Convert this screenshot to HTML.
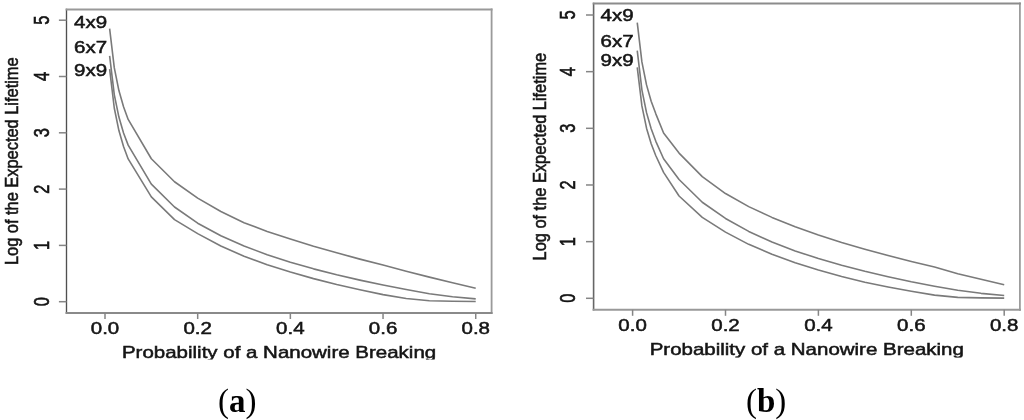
<!DOCTYPE html>
<html><head><meta charset="utf-8"><style>
html,body{margin:0;padding:0;background:#fff;}
body{width:1024px;height:420px;overflow:hidden;}
svg{display:block;filter:blur(0.35px);}
svg text{font-family:"Liberation Sans", sans-serif;}
.cap{font-family:"Liberation Serif", serif; font-size:33px; fill:#000;}
</style></head><body>
<svg width="1024" height="420" viewBox="0 0 1024 420">
<defs>
<clipPath id="clip0"><rect x="0" y="330" width="512" height="29.50"/></clipPath>
<clipPath id="clip1"><rect x="512" y="330" width="512" height="27.60"/></clipPath>
</defs>
<rect width="1024" height="420" fill="#fff"/>
<g fill="none" stroke-linecap="square">
<line x1="66.5" y1="9.5" x2="66.5" y2="313.0" stroke="#505050" stroke-width="1.35"/>
<line x1="491.6" y1="9.5" x2="491.6" y2="313.0" stroke="#9a9a9a" stroke-width="1.8"/>
<line x1="66.5" y1="9.5" x2="491.6" y2="9.5" stroke="#999" stroke-width="1.8"/>
<line x1="66.5" y1="313.0" x2="491.6" y2="313.0" stroke="#8a8a8a" stroke-width="1.9"/>
</g>
<g stroke="#858585" stroke-width="1.5" fill="none">
<line x1="58.90" y1="301.70" x2="66.5" y2="301.70"/>
<line x1="58.90" y1="245.40" x2="66.5" y2="245.40"/>
<line x1="58.90" y1="189.10" x2="66.5" y2="189.10"/>
<line x1="58.90" y1="132.80" x2="66.5" y2="132.80"/>
<line x1="58.90" y1="76.50" x2="66.5" y2="76.50"/>
<line x1="58.90" y1="20.20" x2="66.5" y2="20.20"/>
<line x1="105.00" y1="313.0" x2="105.00" y2="319.00"/>
<line x1="197.68" y1="313.0" x2="197.68" y2="319.00"/>
<line x1="290.36" y1="313.0" x2="290.36" y2="319.00"/>
<line x1="383.04" y1="313.0" x2="383.04" y2="319.00"/>
<line x1="475.72" y1="313.0" x2="475.72" y2="319.00"/>
</g>
<g stroke="#7a7a7a" stroke-width="1.6" fill="none" stroke-linejoin="round">
<path d="M109.63,28.64 L114.27,67.71 L118.90,90.59 L123.54,106.83 L128.17,119.45 L151.34,158.72 L174.51,181.75 L197.68,198.14 L220.85,211.55 L244.02,222.66 L267.19,231.45 L290.36,239.08 L313.53,246.27 L336.70,252.77 L359.87,259.12 L383.04,265.00 L406.21,271.23 L429.38,277.12 L452.55,282.83 L475.72,288.29"/>
<path d="M109.63,55.94 L114.27,94.61 L118.90,117.09 L123.54,132.93 L128.17,145.14 L151.34,184.17 L174.51,207.00 L197.68,223.19 L220.85,235.76 L244.02,246.02 L267.19,254.70 L290.36,262.22 L313.53,268.85 L336.70,274.78 L359.87,280.15 L383.04,285.05 L406.21,289.55 L429.38,293.72 L452.55,296.76 L475.72,298.88"/>
<path d="M109.63,69.17 L114.27,107.98 L118.90,130.59 L123.54,146.56 L128.17,158.91 L151.34,196.84 L174.51,219.66 L197.68,233.61 L220.85,246.03 L244.02,256.15 L267.19,264.69 L290.36,272.07 L313.53,278.63 L336.70,284.49 L359.87,289.79 L383.04,294.62 L406.21,298.56 L429.38,300.76 L452.55,301.27 L475.72,301.52"/>
</g>
<g fill="#151515" stroke="#151515" stroke-width="0.5">
<text transform="translate(48.50,301.70) scale(1.3,1) rotate(-90)" text-anchor="middle" font-size="16.4">0</text>
<text transform="translate(48.50,245.40) scale(1.3,1) rotate(-90)" text-anchor="middle" font-size="16.4">1</text>
<text transform="translate(48.50,189.10) scale(1.3,1) rotate(-90)" text-anchor="middle" font-size="16.4">2</text>
<text transform="translate(48.50,132.80) scale(1.3,1) rotate(-90)" text-anchor="middle" font-size="16.4">3</text>
<text transform="translate(48.50,76.50) scale(1.3,1) rotate(-90)" text-anchor="middle" font-size="16.4">4</text>
<text transform="translate(48.50,20.20) scale(1.3,1) rotate(-90)" text-anchor="middle" font-size="16.4">5</text>
<text transform="translate(105.00,334.00) scale(1.25,1)" text-anchor="middle" font-size="16.4">0.0</text>
<text transform="translate(197.68,334.00) scale(1.25,1)" text-anchor="middle" font-size="16.4">0.2</text>
<text transform="translate(290.36,334.00) scale(1.25,1)" text-anchor="middle" font-size="16.4">0.4</text>
<text transform="translate(383.04,334.00) scale(1.25,1)" text-anchor="middle" font-size="16.4">0.6</text>
<text transform="translate(475.72,334.00) scale(1.25,1)" text-anchor="middle" font-size="16.4">0.8</text>
<text transform="translate(74.10,27.90) scale(1.25,1)" text-anchor="start" font-size="16.4">4x9</text>
<text transform="translate(74.10,52.50) scale(1.25,1)" text-anchor="start" font-size="16.4">6x7</text>
<text transform="translate(74.10,76.00) scale(1.25,1)" text-anchor="start" font-size="16.4">9x9</text>
<g clip-path="url(#clip0)"><text transform="translate(279.05,357.90) scale(1.25,1)" text-anchor="middle" font-size="16.4">Probability of a Nanowire Breaking</text></g>
<text transform="translate(18.10,161.25) scale(1.15,1) rotate(-90)" text-anchor="middle" font-size="16.4">Log of the Expected Lifetime</text>
</g>
<g fill="none" stroke-linecap="square">
<line x1="593.6" y1="3.5" x2="593.6" y2="309.8" stroke="#666" stroke-width="1.6"/>
<line x1="1019.9" y1="3.5" x2="1019.9" y2="309.8" stroke="#9c9c9c" stroke-width="1.8"/>
<line x1="593.6" y1="3.5" x2="1019.9" y2="3.5" stroke="#8c8c8c" stroke-width="1.8"/>
<line x1="593.6" y1="309.8" x2="1019.9" y2="309.8" stroke="#999" stroke-width="2.0"/>
</g>
<g stroke="#858585" stroke-width="1.5" fill="none">
<line x1="586.00" y1="298.30" x2="593.6" y2="298.30"/>
<line x1="586.00" y1="241.64" x2="593.6" y2="241.64"/>
<line x1="586.00" y1="184.98" x2="593.6" y2="184.98"/>
<line x1="586.00" y1="128.32" x2="593.6" y2="128.32"/>
<line x1="586.00" y1="71.66" x2="593.6" y2="71.66"/>
<line x1="586.00" y1="15.00" x2="593.6" y2="15.00"/>
<line x1="632.60" y1="309.8" x2="632.60" y2="315.80"/>
<line x1="725.50" y1="309.8" x2="725.50" y2="315.80"/>
<line x1="818.40" y1="309.8" x2="818.40" y2="315.80"/>
<line x1="911.30" y1="309.8" x2="911.30" y2="315.80"/>
<line x1="1004.20" y1="309.8" x2="1004.20" y2="315.80"/>
</g>
<g stroke="#7a7a7a" stroke-width="1.6" fill="none" stroke-linejoin="round">
<path d="M637.25,22.64 L641.89,61.91 L646.53,84.89 L651.18,101.19 L655.83,113.83 L663.58,132.93 L679.05,153.10 L702.27,176.67 L725.50,193.57 L748.73,206.64 L771.95,217.39 L795.17,226.78 L818.40,234.99 L841.62,242.49 L864.85,249.28 L888.08,255.59 L911.30,261.42 L934.53,266.92 L957.75,273.73 L980.98,279.34 L1004.20,284.69"/>
<path d="M637.25,50.69 L641.89,89.82 L646.53,112.65 L651.18,128.81 L655.83,141.31 L663.58,158.77 L679.05,179.45 L702.27,202.28 L725.50,218.44 L748.73,231.42 L771.95,242.09 L795.17,250.90 L818.40,258.55 L841.62,265.30 L864.85,271.34 L888.08,276.82 L911.30,281.82 L934.53,286.22 L957.75,290.27 L980.98,293.33 L1004.20,295.57"/>
<path d="M637.25,67.29 L641.89,105.88 L646.53,128.18 L651.18,143.80 L655.83,155.76 L663.58,172.41 L679.05,196.00 L702.27,217.38 L725.50,232.10 L748.73,244.34 L771.95,254.28 L795.17,262.70 L818.40,269.95 L841.62,276.49 L864.85,282.31 L888.08,286.98 L911.30,291.17 L934.53,295.14 L957.75,297.36 L980.98,297.86 L1004.20,298.12"/>
</g>
<g fill="#151515" stroke="#151515" stroke-width="0.5">
<text transform="translate(575.30,298.30) scale(1.3,1) rotate(-90)" text-anchor="middle" font-size="16.4">0</text>
<text transform="translate(575.30,241.64) scale(1.3,1) rotate(-90)" text-anchor="middle" font-size="16.4">1</text>
<text transform="translate(575.30,184.98) scale(1.3,1) rotate(-90)" text-anchor="middle" font-size="16.4">2</text>
<text transform="translate(575.30,128.32) scale(1.3,1) rotate(-90)" text-anchor="middle" font-size="16.4">3</text>
<text transform="translate(575.30,71.66) scale(1.3,1) rotate(-90)" text-anchor="middle" font-size="16.4">4</text>
<text transform="translate(575.30,15.00) scale(1.3,1) rotate(-90)" text-anchor="middle" font-size="16.4">5</text>
<text transform="translate(632.60,330.70) scale(1.25,1)" text-anchor="middle" font-size="16.4">0.0</text>
<text transform="translate(725.50,330.70) scale(1.25,1)" text-anchor="middle" font-size="16.4">0.2</text>
<text transform="translate(818.40,330.70) scale(1.25,1)" text-anchor="middle" font-size="16.4">0.4</text>
<text transform="translate(911.30,330.70) scale(1.25,1)" text-anchor="middle" font-size="16.4">0.6</text>
<text transform="translate(1004.20,330.70) scale(1.25,1)" text-anchor="middle" font-size="16.4">0.8</text>
<text transform="translate(600.60,21.00) scale(1.25,1)" text-anchor="start" font-size="16.4">4x9</text>
<text transform="translate(600.60,47.30) scale(1.25,1)" text-anchor="start" font-size="16.4">6x7</text>
<text transform="translate(600.60,66.00) scale(1.25,1)" text-anchor="start" font-size="16.4">9x9</text>
<g clip-path="url(#clip1)"><text transform="translate(806.75,354.90) scale(1.25,1)" text-anchor="middle" font-size="16.4">Probability of a Nanowire Breaking</text></g>
<text transform="translate(545.80,156.65) scale(1.15,1) rotate(-90)" text-anchor="middle" font-size="16.4">Log of the Expected Lifetime</text>
</g>
<text class="cap" x="218" y="411.5">(<tspan font-weight="bold">a</tspan>)</text>
<text class="cap" x="746" y="411.5">(<tspan font-weight="bold">b</tspan>)</text>
</svg>
</body></html>
